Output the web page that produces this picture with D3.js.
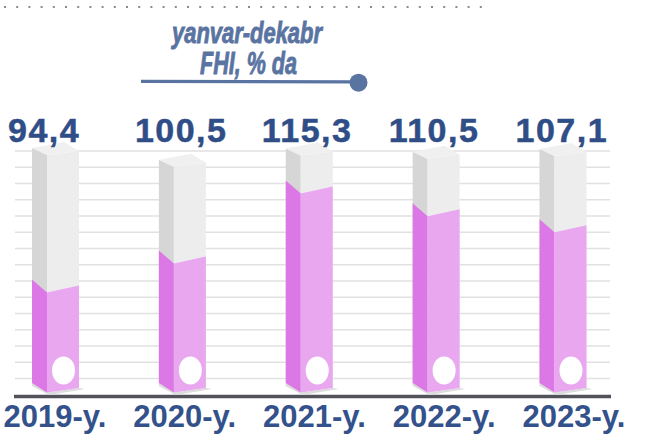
<!DOCTYPE html>
<html><head><meta charset="utf-8">
<script src="https://cdn.jsdelivr.net/npm/d3@7"></script>
<style>body{margin:0;background:#fff}svg{display:block}</style>
</head><body>
<svg id="c" width="646" height="439"></svg>
<script>
const years = ["2019-y.", "2020-y.", "2021-y.", "2022-y.", "2023-y."];
const values = [94.4, 100.5, 115.3, 110.5, 107.1];
const valueLabels = ["94,4", "100,5", "115,3", "110,5", "107,1"];
const capacity = [123.4, 120.9, 123.3, 122.6, 123.2];
const titleLines = ["yanvar-dekabr", "FHI, % da"];

const svg = d3.select("#c");

// scales
const y = d3.scaleLinear().domain([73.3, 123.4]).range([392.5, 155]);
const xBar = d3.scalePoint().domain(years).range([55.5, 563]);
const xLab = d3.scalePoint().domain(years).range([55, 574]);
const grid = d3.scaleLinear().domain([0, 14]).range([378.5, 151]);

// dotted top rule
svg.append("line").attr("x1", 4).attr("x2", 482).attr("y1", 7).attr("y2", 7)
  .attr("stroke", "#8a8a8a").attr("stroke-width", 2).attr("stroke-dasharray", "2,10.2");

// title
const title = svg.append("g").attr("fill", "#5a74a2").attr("stroke", "#5a74a2").attr("stroke-width", 0.9)
  .attr("font-family", "Liberation Sans, Arial, sans-serif")
  .attr("font-weight", "bold").attr("font-style", "italic").attr("text-anchor", "middle");
title.append("text").attr("x", 247).attr("y", 42.5).attr("font-size", 30)
  .attr("textLength", 150).attr("lengthAdjust", "spacingAndGlyphs").text(titleLines[0]);
title.append("text").attr("x", 248.5).attr("y", 74).attr("font-size", 32)
  .attr("textLength", 97).attr("lengthAdjust", "spacingAndGlyphs").text(titleLines[1]);
svg.append("line").attr("x1", 141).attr("x2", 352).attr("y1", 81.3).attr("y2", 81.8)
  .attr("stroke", "#5a74a2").attr("stroke-width", 3.2);
svg.append("circle").attr("cx", 358.5).attr("cy", 82.7).attr("r", 9).attr("fill", "#5a74a2");

// gridlines
svg.append("g").selectAll("line").data(d3.range(15)).join("line")
  .attr("x1", 15).attr("x2", 610)
  .attr("y1", d => grid(d)).attr("y2", d => grid(d))
  .attr("stroke", "#e1e1e1").attr("stroke-width", 1.6);

// axis line
svg.append("line").attr("x1", 14).attr("x2", 611).attr("y1", 396.5).attr("y2", 396.5)
  .attr("stroke", "#52525c").attr("stroke-width", 3.6);

// bars
const yBS = y(y.domain()[0]);
const bars = svg.append("g").selectAll("g").data(years).join("g");
bars.each(function (yr, i) {
  const g = d3.select(this);
  const L = xBar(yr) - 23.5, S = L + 15, R = L + 47;
  const yS = y(capacity[i]);
  const topL = yS - 7, topR = yS - 4, back = yS - 13;
  const yBL = yBS - 9.5, yBR = yBS - 4.5;
  const yP = y(values[i]);
  const pL = yP - 13, pR = yP - 7;
  const poly = pts => pts.map(p => p.join(",")).join(" ");
  g.append("polygon").attr("points", poly([[L, yBL], [S, yBS], [R, yBR], [R + 6, yBR + 1], [S + 2, yBS + 2.5], [L, yBL + 3]]))
    .attr("fill", "#dcdcdc");
  g.append("polygon").attr("points", poly([[L, topL], [S, yS], [S, yBS], [L, yBL]])).attr("fill", "#d6d6d6");
  g.append("polygon").attr("points", poly([[S, yS], [R, topR], [R, yBR], [S, yBS]])).attr("fill", "#ededed");
  g.append("polygon").attr("points", poly([[L, topL], [L + 32, back], [R, topR], [S, yS]])).attr("fill", "#f0f0f0");
  g.append("polygon").attr("points", poly([[L, pL], [S, yP], [S, yBS], [L, yBL]])).attr("fill", "#db78e5");
  g.append("polygon").attr("points", poly([[S, yP], [R, pR], [R, yBR], [S, yBS]])).attr("fill", "#e9a7f0");
  g.append("ellipse").attr("cx", S + 16.5).attr("cy", yBS - 22).attr("rx", 11.5).attr("ry", 14).attr("fill", "#fff");
  g.append("text").attr("x", L - 24).attr("y", 142)
    .attr("font-family", "Liberation Sans, Arial, sans-serif").attr("font-weight", "bold")
    .attr("font-size", 34).attr("letter-spacing", 1.5).attr("fill", "#2f4d86")
    .attr("stroke", "#2f4d86").attr("stroke-width", 0.5)
    .text(valueLabels[i]);
});

// category labels
svg.append("g").selectAll("text").data(years).join("text")
  .attr("x", d => xLab(d)).attr("y", 427).attr("text-anchor", "middle")
  .attr("font-family", "Liberation Sans, Arial, sans-serif").attr("font-weight", "bold")
  .attr("font-size", 31).attr("fill", "#33518a").text(d => d);
</script>
</body></html>
